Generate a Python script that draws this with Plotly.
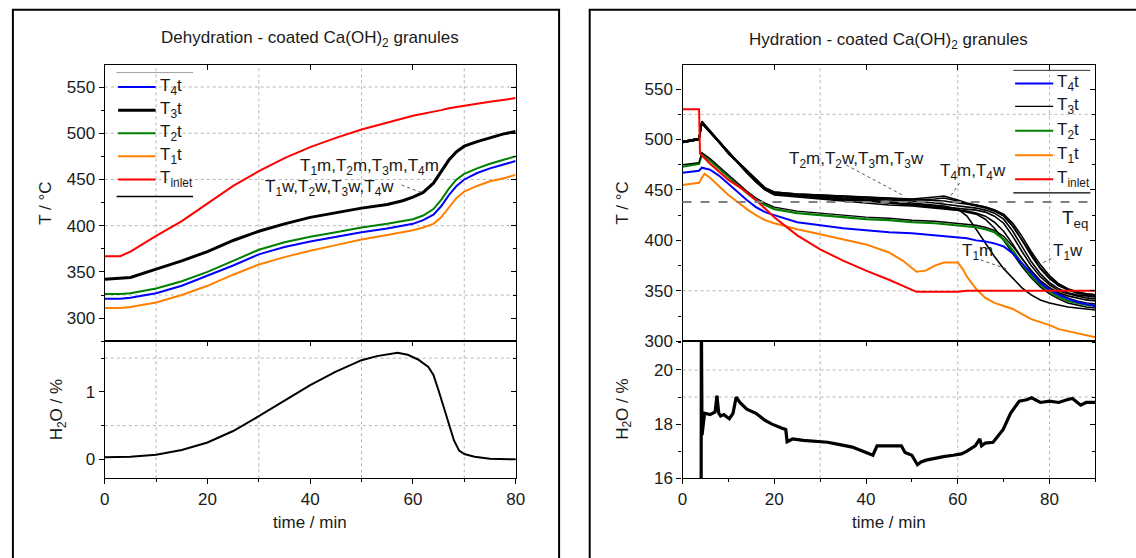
import plotly.graph_objects as go

FIG_W, FIG_H = 1136, 558
FONT = "Liberation Sans, Arial, sans-serif"
INK = "#1a1a1a"
GRID = "#b4b4b4"
FS = 17
C_BLUE, C_BLACK, C_GREEN, C_ORANGE, C_RED = "#0000ff", "#000000", "#008000", "#ff8000", "#ff0000"

# ---------------- Dehydration (left panel) ----------------
deh_time = [0, 3, 5, 10, 15, 20, 25, 30, 35, 40, 45, 50, 55, 58, 60, 62, 64, 65.5, 67, 68.5, 70, 72.5, 75, 77.5, 80]
deh_T_inlet = [367, 367, 372, 389, 405, 424, 443, 459, 473, 485, 495, 504, 512, 516, 519, 521, 523.5, 525, 527, 528.5, 530, 532, 534, 536, 538]
deh_T3t = [342, 343, 344, 353, 362, 372, 384, 394, 402, 409, 414, 419, 423, 427, 431, 436, 446, 458, 471, 480, 486, 491, 495, 499, 502]
deh_T2t = [326, 326, 327, 332, 340, 350, 362, 374, 382, 388, 393, 398, 402, 405, 407, 411, 418, 428, 440, 450, 456, 462, 467, 471, 475]
deh_T4t = [321, 321, 322, 327, 335, 346, 357, 369, 377, 383, 388, 393, 397, 400, 402, 406, 412, 421, 433, 443, 450, 457, 462, 466, 470]
deh_T1t = [311, 311, 312, 317, 325, 335, 347, 358, 366, 373, 379, 385, 390, 393, 395, 398, 402, 409, 420, 430, 437, 443, 448, 451, 455]

deh_h2o_time = [0, 5, 10, 15, 20, 25, 30, 35, 40, 45, 50, 53, 55, 57, 59, 61, 63, 64, 65, 66, 67, 68, 69, 70, 72, 75, 80]
deh_h2o = [0.03, 0.04, 0.07, 0.14, 0.25, 0.42, 0.64, 0.87, 1.10, 1.30, 1.47, 1.53, 1.56, 1.58, 1.55, 1.48,
           1.37, 1.25, 1.02, 0.78, 0.52, 0.28, 0.13, 0.08, 0.04, 0.01, 0.0]

# ---------------- Hydration (right panel) ----------------
hyd_time = [0, 3.6, 4.2, 6, 8, 10, 12, 14, 16, 18, 20, 25, 30, 35, 40, 45, 50, 55, 57, 60,
            62, 64, 66, 68, 70, 72, 74, 76, 78, 80, 82, 84, 86, 88, 90]
hyd_T3m = [498, 501, 518, 509, 498, 487, 478, 469, 460, 452, 448, 446, 445, 444, 443, 442, 441, 440, 439, 437,
           436, 435, 433, 430, 425, 414, 400, 385, 372, 362, 355, 351, 348, 347, 346]
hyd_T3w = [497, 500, 517, 508, 497, 486, 477, 468, 459, 451, 447, 445, 444, 442, 441, 440, 439, 437, 436, 434,
           433, 432, 430, 427, 421, 409, 394, 379, 367, 358, 352, 348, 346, 345, 344]
hyd_T2m = [498, 501, 517, 508, 498, 487, 477, 468, 459, 451, 446, 444, 442, 441, 440, 438, 436, 434, 433, 432,
           431, 430, 428, 424, 417, 404, 389, 375, 364, 356, 350, 347, 345, 343, 342]
hyd_T2w = [497, 500, 516, 507, 497, 486, 476, 467, 458, 450, 445, 443, 441, 439, 437, 435, 434, 432, 431, 430,
           429, 427, 424, 418, 409, 396, 382, 370, 360, 353, 348, 345, 343, 341, 340]
hyd_T4m = [498, 501, 518, 509, 498, 487, 478, 469, 460, 452, 448, 446, 445, 444, 443, 442, 441, 443, 444, 440,
           437, 435, 433, 430, 426, 417, 404, 389, 376, 365, 357, 352, 349, 347, 346]
hyd_T4w = [497, 500, 517, 508, 497, 486, 477, 468, 459, 451, 447, 445, 444, 443, 442, 441, 440, 441, 442, 439,
           436, 434, 432, 429, 424, 414, 400, 386, 373, 363, 356, 351, 348, 346, 345]
hyd_T1m = [498, 501, 517, 508, 498, 487, 477, 468, 459, 451, 447, 445, 443, 441, 440, 438, 437, 435, 434, 431,
           424, 411, 397, 384, 372, 362, 353, 346, 341, 338, 336, 334, 333, 332, 331]
hyd_T1w = [497, 500, 516, 507, 497, 486, 476, 467, 458, 450, 446, 444, 442, 440, 439, 437, 435, 433, 432, 430,
           428, 426, 421, 412, 400, 387, 374, 363, 354, 347, 342, 338, 336, 334, 333]
hyd_T3t = [475, 477, 487, 481, 473, 465, 457, 449, 442, 437, 433, 429, 427, 425, 423, 422, 420, 419, 418, 417,
           416, 415, 413, 410, 404, 394, 382, 370, 360, 353, 347, 343, 340, 338, 337]
hyd_T2t = [473, 476, 485, 479, 471, 463, 455, 447, 440, 435, 431, 427, 425, 423, 421, 420, 418, 417, 416, 415,
           414, 413, 411, 408, 401, 390, 377, 365, 356, 349, 344, 340, 338, 336, 335]
hyd_T4t = [467, 469, 472, 470, 464, 456, 448, 440, 433, 428, 425, 418, 415, 412, 410, 408, 407, 405, 404, 403,
           402, 400, 399, 397, 394, 387, 377, 367, 358, 351, 346, 342, 339, 337, 335]

hyd_T1t_time = [0, 3.6, 4.2, 4.8, 6, 8, 10, 12, 14, 16, 18, 20, 25, 30, 35, 40, 45, 48, 51, 53, 55, 57, 60,
                61, 62, 64, 66, 68, 70, 72, 74, 76, 78, 80, 82, 84, 86, 88, 90]
hyd_T1t = [455, 457, 462, 466, 462, 453, 445, 438, 431, 425, 420, 417, 411, 406, 401, 396, 388, 380, 369, 370,
           375, 378, 378, 372, 364, 352, 343, 338, 335, 332, 327, 322, 319, 316, 312, 310, 308, 306, 304]

hyd_inlet_time = [0, 3.6, 3.8, 6, 10, 13, 16, 20, 25, 30, 35, 40, 45, 48, 51, 60, 62, 90]
hyd_T_inlet = [530, 530, 486, 476, 460, 451, 440, 423, 405, 391, 380, 370, 361, 355, 349, 349, 350, 350]

hyd_h2o_time = [4.05, 4.1, 4.25, 4.8, 6.0, 7.1, 7.5, 7.9, 8.3, 9.0, 10.2, 11.0, 11.7, 12.5, 14, 16, 17.9, 19.5,
                21.7, 22.5, 22.8, 24, 26.3, 29, 31.6, 34, 37, 40, 41.5, 42.4, 45, 47.7, 48.5, 50, 51.2, 52,
                53.1, 55, 56.9, 59, 60.8, 62, 63.8, 64.8, 65.2, 66, 67.7, 69.9, 71.5, 73.4, 75, 76.1, 78,
                80, 82, 83.8, 85, 86.8, 88, 90]
hyd_h2o = [15, 22, 17.6, 18.4, 18.35, 18.45, 19.05, 18.4, 18.3, 18.35, 18.2, 18.4, 19.0, 18.8, 18.55, 18.4,
           18.15, 18.0, 17.85, 17.8, 17.35, 17.45, 17.4, 17.35, 17.33, 17.25, 17.15, 16.95, 16.85, 17.2, 17.2,
           17.2, 16.95, 16.85, 16.5, 16.6, 16.67, 16.75, 16.8, 16.85, 16.9, 17.0, 17.2, 17.45, 17.2, 17.3,
           17.33, 17.8, 18.4, 18.85, 18.9, 18.97, 18.8, 18.85, 18.8, 18.9, 18.95, 18.7, 18.8, 18.8]
T_EQ = 438

legend_names = ["T<sub>4</sub>t", "T<sub>3</sub>t", "T<sub>2</sub>t", "T<sub>1</sub>t", "T<sub>inlet</sub>"]
legend_colors = [C_BLUE, C_BLACK, C_GREEN, C_ORANGE, C_RED]


# ---------------- geometry (pixels) ----------------
def px(x):
    return x / FIG_W


def py(y):
    return 1 - y / FIG_H


Y_TOP, Y_MID, Y_BOT = 66, 347.5, 487
DOM_TOP = [py(Y_MID), py(Y_TOP)]
DOM_BOT = [py(Y_BOT), py(Y_MID)]

fig = go.Figure()
shapes, annotations = [], []

AX_BASE = dict(showgrid=False, zeroline=False, showline=True, linecolor="black", linewidth=1.3,
               tickcolor="black", tickwidth=1, ticklen=5,
               tickfont=dict(family=FONT, size=FS, color=INK))


def add_panel(n, xdom, xrange_, xdtick, xminor, ytop_range, ytop_dtick, ytop_minor,
              ybot_range, ybot_dtick, ybot_minor):
    xt, xb, xo1, xo2 = n, n + 1, n + 2, n + 3

    def k(prefix, i):
        return prefix + ("" if i == 1 else str(i))
    lay = {}
    lay[k("xaxis", xt)] = dict(AX_BASE, domain=xdom, range=xrange_, anchor=k("y", xt), ticks="",
                               showticklabels=False, mirror=True)
    lay[k("xaxis", xb)] = dict(AX_BASE, domain=xdom, range=xrange_, anchor=k("y", xb), ticks="outside",
                               tick0=0, dtick=xdtick, mirror=True,
                               minor=dict(ticks="outside", dtick=xminor, ticklen=3, tickcolor="black"))
    lay[k("yaxis", xt)] = dict(AX_BASE, domain=DOM_TOP, range=ytop_range, anchor=k("x", xt), ticks="outside",
                               tick0=0, dtick=ytop_dtick, mirror=True,
                               minor=dict(ticks="outside", dtick=ytop_minor, ticklen=3, tickcolor="black"))
    lay[k("yaxis", xb)] = dict(AX_BASE, domain=DOM_BOT, range=ybot_range, anchor=k("x", xb), ticks="outside",
                               tick0=0, dtick=ybot_dtick, mirror=True,
                               minor=dict(ticks="outside", dtick=ybot_minor, ticklen=3, tickcolor="black"))
    # overlay axes carrying the inward ticks on the top and right edges
    lay[k("xaxis", xo1)] = dict(AX_BASE, overlaying=k("x", xt), side="top", anchor=k("y", xt), range=xrange_,
                                ticks="inside", tick0=0, dtick=xdtick, showticklabels=False, showline=False)
    lay[k("xaxis", xo2)] = dict(AX_BASE, overlaying=k("x", xb), side="top", anchor=k("y", xb), range=xrange_,
                                ticks="inside", tick0=0, dtick=xdtick, showticklabels=False, showline=False)
    lay[k("yaxis", xo1)] = dict(AX_BASE, overlaying=k("y", xt), side="right", anchor=k("x", xt),
                                range=ytop_range, ticks="inside", tick0=0, dtick=ytop_dtick,
                                showticklabels=False, showline=False,
                                minor=dict(ticks="inside", dtick=ytop_minor, ticklen=3, tickcolor="black"))
    lay[k("yaxis", xo2)] = dict(AX_BASE, overlaying=k("y", xb), side="right", anchor=k("x", xb),
                                range=ybot_range, ticks="inside", tick0=0, dtick=ybot_dtick,
                                showticklabels=False, showline=False,
                                minor=dict(ticks="inside", dtick=ybot_minor, ticklen=3, tickcolor="black"))
    fig.update_layout(**lay)
    for xa, ya in [(k("x", xo1), k("y", xt)), (k("x", xo2), k("y", xb)),
                   (k("x", xt), k("y", xo1)), (k("x", xb), k("y", xo2))]:
        fig.add_trace(go.Scatter(x=[], y=[], xaxis=xa, yaxis=ya, showlegend=False, hoverinfo="skip"))
    return k("x", xt), k("y", xt), k("x", xb), k("y", xb)


def line(xa, ya, x, y, color, width):
    fig.add_trace(go.Scatter(x=x, y=y, xaxis=xa, yaxis=ya, mode="lines", showlegend=False,
                             line=dict(color=color, width=width)))


def hgrid(xa, ya, vals):
    for v in vals:
        shapes.append(dict(type="line", xref=xa + " domain", x0=0, x1=1, yref=ya, y0=v, y1=v, layer="below",
                           line=dict(color=GRID, width=1, dash="dot")))


def vgrid(xa, ya, vals):
    for v in vals:
        shapes.append(dict(type="line", xref=xa, x0=v, x1=v, yref=ya + " domain", y0=0, y1=1, layer="below",
                           line=dict(color=GRID, width=1, dash="dot")))


def text(xref, yref, x, y, s, size=FS, xanchor="center", yanchor="middle", angle=0):
    annotations.append(dict(xref=xref, yref=yref, x=x, y=y, text=s, showarrow=False, xanchor=xanchor,
                            yanchor=yanchor, textangle=angle, font=dict(family=FONT, size=size, color=INK)))


def seg(xa, ya, x0, y0, x1, y1, color, width, dash="solid"):
    shapes.append(dict(type="line", xref=xa, yref=ya, x0=x0, y0=y0, x1=x1, y1=y1,
                       line=dict(color=color, width=width, dash=dash)))


def legend(xa, ya, rows, widths, lx0, lx1, tx, top_line, bot_line, top_color):
    seg(xa, ya, top_line[0], top_line[2], top_line[1], top_line[2], top_color, 1)
    for name, color, w, r in zip(legend_names, legend_colors, widths, rows):
        seg(xa, ya, lx0, r, lx1, r, color, w)
        text(xa, ya, tx, r, name, size=FS, xanchor="left")
    seg(xa, ya, bot_line[0], bot_line[2], bot_line[1], bot_line[2], "black", 1.3)


# ---------------- left panel ----------------
LX = [px(101), px(517)]
ax1, ay1, ax2, ay2 = add_panel(1, LX, [0, 80], 20, 10, [275, 574], 50, 25, [-0.28, 1.75], 1, 0.5)
hgrid(ax1, ay1, [325, 400, 450, 500, 550])
vgrid(ax1, ay1, [10, 30, 50, 70])
hgrid(ax2, ay2, [0.5, 1.5])
vgrid(ax2, ay2, [10, 30, 50, 70])

line(ax1, ay1, deh_time, deh_T1t, C_ORANGE, 2)
line(ax1, ay1, deh_time, deh_T4t, C_BLUE, 2)
line(ax1, ay1, deh_time, deh_T2t, C_GREEN, 2)
line(ax1, ay1, deh_time, deh_T3t, C_BLACK, 3)
line(ax1, ay1, deh_time, deh_T_inlet, C_RED, 2)
line(ax2, ay2, deh_h2o_time, deh_h2o, C_BLACK, 2)

legend(ax1, ay1, [550, 525, 500, 475, 450], [2, 3, 2, 2, 2], 2.6, 9.9, 10.4,
       (2.3, 17.2, 565.6), (2.3, 17.2, 431.6), "#a0a0a0")
text(ax1, ay1, 51.6, 463.5, "T<sub>1</sub>m,T<sub>2</sub>m,T<sub>3</sub>m,T<sub>4</sub>m")
text(ax1, ay1, 43.7, 440.4, "T<sub>1</sub>w,T<sub>2</sub>w,T<sub>3</sub>w,T<sub>4</sub>w")
seg(ax1, ay1, 57.8, 444, 61.6, 436, "#555555", 1, "dot")

text("paper", "paper", px(309), py(40), "Dehydration - coated Ca(OH)<sub>2</sub> granules")
text("paper", "paper", px(41), py(207), "T / °C", angle=-90)
text("paper", "paper", px(53.5), py(417), "H<sub>2</sub>O / %", angle=-90)
text("paper", "paper", px(309), py(532), "time / min")
shapes.append(dict(type="rect", xref="paper", yref="paper", x0=px(8), x1=px(561), y0=-0.02, y1=py(10),
                   line=dict(color="black", width=2)))

# ---------------- right panel ----------------
RX = [px(686), px(1104)]
bx1, by1, bx2, by2 = add_panel(5, RX, [0, 90], 20, 10, [300, 574], 50, 25, [16, 21.06], 2, 1)
hgrid(bx1, by1, [350, 525])
vgrid(bx1, by1, [30, 60, 80])
hgrid(bx2, by2, [19, 20])
vgrid(bx2, by2, [30, 60, 80])
shapes.append(dict(type="line", xref=bx1 + " domain", x0=0, x1=1, yref=by1, y0=T_EQ, y1=T_EQ,
                   line=dict(color="#808080", width=2, dash="dash")))

for series in [hyd_T3m, hyd_T3w, hyd_T2m, hyd_T2w, hyd_T4m, hyd_T4w, hyd_T1m, hyd_T1w]:
    line(bx1, by1, hyd_time, series, C_BLACK, 1.6)
line(bx1, by1, hyd_time, hyd_T2t, C_GREEN, 2.2)
line(bx1, by1, hyd_time, hyd_T3t, C_BLACK, 1.4)
line(bx1, by1, hyd_time, hyd_T4t, C_BLUE, 2)
line(bx1, by1, hyd_T1t_time, hyd_T1t, C_ORANGE, 2)
line(bx1, by1, hyd_inlet_time, hyd_T_inlet, C_RED, 2)
line(bx2, by2, hyd_h2o_time, hyd_h2o, C_BLACK, 3.2)

legend(bx1, by1, [555.5, 532.9, 508.6, 484.3, 460.6], [2, 1.2, 2, 2, 2], 72.5, 80.8, 81.3,
       (72.1, 88.9, 568.5), (72.1, 88.9, 447), "#333333")
text(bx1, by1, 38, 479.4, "T<sub>2</sub>m,T<sub>2</sub>w,T<sub>3</sub>m,T<sub>3</sub>w")
seg(bx1, by1, 35.7, 474.6, 48.4, 443.8, "#555555", 1, "dot")
text(bx1, by1, 63.4, 468, "T<sub>4</sub>m,T<sub>4</sub>w")
seg(bx1, by1, 60.4, 456.7, 58.4, 443.8, "#555555", 1, "dot")
text(bx1, by1, 64.2, 388.7, "T<sub>1</sub>m")
seg(bx1, by1, 65, 380.6, 71.2, 370.9, "#555555", 1, "dot")
text(bx1, by1, 84, 388.7, "T<sub>1</sub>w")
seg(bx1, by1, 80.4, 382, 76.9, 374, "#555555", 1, "dot")
text(bx1, by1, 88.8, 421, "T<sub>eq</sub>", size=19, xanchor="right")

text("paper", "paper", px(895), py(42), "Hydration - coated Ca(OH)<sub>2</sub> granules")
text("paper", "paper", px(625), py(207), "T / °C", angle=-90)
text("paper", "paper", px(626), py(417), "H<sub>2</sub>O / %", angle=-90)
text("paper", "paper", px(895), py(532), "time / min")
shapes.append(dict(type="rect", xref="paper", yref="paper", x0=px(592), x1=1.02, y0=-0.02, y1=py(10),
                   line=dict(color="black", width=2)))

fig.update_layout(width=FIG_W, height=FIG_H, margin=dict(l=0, r=0, t=0, b=0),
                  paper_bgcolor="white", plot_bgcolor="white", showlegend=False,
                  shapes=shapes, annotations=annotations, font=dict(family=FONT, color=INK))
fig.write_html("out.html")
